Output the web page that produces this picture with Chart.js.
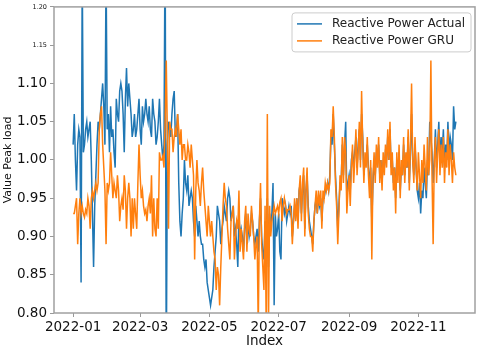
<!DOCTYPE html>
<html>
<head>
<meta charset="utf-8">
<script src="https://cdn.jsdelivr.net/npm/chart.js"></script>
<style>
  html, body { margin: 0; padding: 0; background: #fff; }
  #wrap { width: 480px; height: 351px; }
</style>
</head>
<body>
<div id="wrap"><canvas id="peakChart" width="480" height="351"></canvas></div>
<script>
// daily values, 2022-01-01 .. 2022-12-04 (index = day of year - 1)
const actual = [
  1.02,1.06,1.00,0.96,1.02,1.04,1.03,0.84,1.25,1.01,
  1.02,1.04,1.05,1.03,1.04,1.05,1.00,0.93,0.86,0.94,
  0.98,1.02,1.05,1.04,1.06,1.08,1.10,1.07,1.02,1.25,
  1.04,1.06,1.01,1.07,1.03,1.04,1.01,0.99,1.08,1.06,
  1.05,1.09,1.10,1.09,1.06,1.01,1.08,1.12,1.07,1.10,
  1.08,1.06,1.03,1.04,1.06,1.03,1.04,1.06,1.08,1.04,
  1.02,1.07,1.05,1.06,1.08,1.06,1.05,1.07,1.04,1.03,
  1.08,1.06,1.05,1.02,1.03,1.05,1.08,1.04,1.02,1.00,
  1.02,1.30,0.72,1.02,1.05,1.04,1.03,1.06,1.08,1.09,
  1.03,1.04,1.06,0.97,0.92,0.90,0.93,0.95,1.00,0.97,
  0.96,0.98,0.94,0.95,0.96,0.95,0.92,0.90,0.94,0.92,
  0.90,0.92,0.90,0.89,0.89,0.87,0.86,0.87,0.84,0.83,
  0.82,0.81,0.82,0.83,0.86,0.88,0.90,0.94,0.93,0.92,
  0.89,0.91,0.92,0.94,0.93,0.92,0.95,0.96,0.95,0.92,
  0.93,0.94,0.90,0.91,0.89,0.86,0.93,0.90,0.91,0.90,
  0.88,0.91,0.93,0.89,0.92,0.90,0.91,0.93,0.92,0.90,
  0.89,0.90,0.91,0.88,0.92,0.95,0.90,0.88,0.87,0.92,
  0.89,0.95,0.86,0.93,0.91,0.93,0.97,0.81,0.93,0.90,
  0.91,0.93,0.88,0.87,0.95,0.94,0.93,0.94,0.92,0.93,
  0.94,0.93,0.94,0.90,0.92,0.94,0.93,0.95,0.92,0.96,
  0.97,0.93,0.96,0.98,0.91,0.96,0.98,0.94,0.92,0.91,
  0.90,0.89,0.92,0.94,0.95,0.93,0.95,0.94,0.95,0.92,
  0.95,0.95,0.96,0.96,0.97,0.96,0.98,1.03,1.02,1.06,
  1.02,0.98,0.95,0.91,0.94,0.97,0.97,1.02,0.98,1.02,
  1.05,0.95,0.97,0.98,0.96,1.00,1.01,0.99,1.01,1.03,
  0.99,1.02,1.04,1.00,1.06,1.03,0.98,1.00,1.00,1.02,
  0.99,0.97,0.99,0.92,0.97,1.00,0.98,1.01,1.00,1.02,
  0.98,1.00,0.97,1.00,0.99,1.01,1.00,1.03,1.00,1.04,
  0.99,1.00,0.97,0.99,0.95,1.00,0.98,1.01,0.96,0.99,
  0.98,1.02,0.98,1.00,0.99,1.03,0.97,1.01,1.06,1.00,
  0.98,1.02,0.99,0.96,0.95,0.97,0.93,0.96,0.95,0.99,
  0.97,0.95,1.00,0.98,1.05,1.03,1.01,0.97,1.00,1.04,
  0.99,1.02,1.05,1.00,1.03,1.01,1.04,0.99,1.02,1.00,
  1.05,1.01,1.03,1.02,1.00,1.07,1.04,1.05
];

const gru = [
  0.93,0.93,0.94,0.95,0.89,0.93,0.95,0.93,0.94,0.93,
  0.925,0.935,0.93,0.95,0.94,0.91,0.95,0.96,0.95,0.96,
  0.97,0.96,0.97,1.04,1.06,1.07,1.02,0.99,0.96,0.89,
  0.97,0.96,0.97,1.01,0.98,0.95,0.97,0.96,0.95,0.98,
  0.96,0.92,0.94,0.95,0.935,0.98,0.96,0.91,0.95,0.97,
  0.95,0.90,0.95,0.91,0.95,0.93,0.91,0.97,1.02,0.98,
  0.95,0.96,0.94,0.93,0.935,0.92,0.94,0.95,0.93,0.98,
  0.90,0.95,0.91,0.90,0.95,0.91,1.01,1.00,1.00,1.005,
  0.99,1.05,1.13,1.03,0.91,1.05,1.04,1.04,1.01,1.03,
  1.04,1.03,1.06,1.04,1.02,1.04,1.00,1.02,1.02,1.00,
  1.00,1.02,1.01,0.99,1.02,1.00,0.98,0.87,0.96,1.00,
  0.97,0.96,0.94,0.97,0.99,0.96,0.94,0.92,0.90,0.94,
  0.92,0.90,0.92,0.90,0.88,0.87,0.83,0.86,0.85,0.81,
  0.86,0.90,0.94,0.97,0.95,0.94,0.91,0.89,0.87,0.92,
  0.93,0.94,0.87,0.90,0.92,0.91,0.96,0.88,0.91,0.89,
  0.87,0.92,0.94,0.88,0.93,0.91,0.90,0.94,0.92,0.90,
  0.87,0.89,0.90,0.78,0.92,0.97,0.89,0.86,0.83,0.94,
  0.78,1.06,0.78,0.94,0.90,0.92,0.93,0.94,0.93,0.935,
  0.94,0.93,0.945,0.95,0.92,0.94,0.95,0.94,0.93,0.935,
  0.935,0.94,0.93,0.89,0.92,0.95,0.92,0.95,0.91,0.96,
  0.98,0.92,0.97,0.99,0.90,0.96,0.99,0.93,0.91,0.90,
  0.90,0.88,0.92,0.94,0.96,0.93,0.96,0.94,0.96,0.91,
  0.96,0.95,0.97,0.96,0.97,0.96,0.97,1.04,1.03,1.07,
  1.03,0.97,0.94,0.89,0.93,0.98,0.96,1.03,0.97,1.03,
  1.01,0.93,0.96,0.98,0.94,0.99,1.02,0.97,1.00,1.04,
  0.98,1.01,1.05,0.99,1.09,1.02,0.97,1.01,0.99,1.03,
  0.98,0.95,1.00,0.87,0.98,1.01,0.97,1.02,0.99,1.03,
  0.97,1.00,0.96,1.01,0.98,1.02,0.99,1.04,1.00,1.05,
  0.98,1.01,0.96,0.99,0.93,1.01,0.97,1.02,0.95,1.00,
  0.98,1.03,0.97,1.01,0.99,1.04,0.96,1.02,1.10,1.00,
  0.97,1.03,0.99,0.96,1.01,0.98,0.95,1.00,0.97,1.02,
  0.99,0.96,1.03,0.98,1.00,1.13,0.98,0.89,1.00,1.03,
  0.97,1.01,1.04,0.98,1.02,0.99,1.03,0.97,1.01,0.99,
  1.04,0.98,1.02,1.00,0.97,1.01,0.99,0.98
];

// x ticks: first day of every other month (day index from 2022-01-01)
const monthTicks = [0, 59, 120, 181, 243, 304];
const monthLabels = ["2022-01", "2022-03", "2022-05", "2022-07", "2022-09", "2022-11"];
const yTicks = [0.80, 0.85, 0.90, 0.95, 1.00, 1.05, 1.10, 1.15, 1.20];

const FONT = "'DejaVu Sans', 'Liberation Sans', sans-serif";

// spines on all four sides (matplotlib style box)
const frame = {
  id: "frame",
  afterDatasetsDraw(chart) {
    const { left, right, top, bottom } = chart.chartArea;
    const ctx = chart.ctx;
    ctx.save();
    ctx.strokeStyle = "#a0a0a0";
    ctx.lineWidth = 1.5;
    ctx.strokeRect(left, top, right - left, bottom - top);
    ctx.restore();
  },
};

// legend box in the upper right corner of the plot
const cornerLegend = {
  id: "cornerLegend",
  afterDraw(chart) {
    const ctx = chart.ctx;
    const { right, top } = chart.chartArea;
    const x0 = right - 183, y0 = top + 6, w = 179, h = 39;
    ctx.save();
    ctx.beginPath();
    ctx.roundRect(x0, y0, w, h, 3);
    ctx.fillStyle = "rgba(255,255,255,0.8)";
    ctx.fill();
    ctx.strokeStyle = "#cccccc";
    ctx.lineWidth = 1;
    ctx.stroke();
    ctx.font = "12px " + FONT;
    ctx.textBaseline = "middle";
    chart.data.datasets.forEach((ds, i) => {
      const y = y0 + 11 + i * 17;
      ctx.strokeStyle = ds.borderColor;
      ctx.lineWidth = 1.5;
      ctx.beginPath();
      ctx.moveTo(x0 + 5, y);
      ctx.lineTo(x0 + 30, y);
      ctx.stroke();
      ctx.fillStyle = "#222";
      ctx.fillText(ds.label, x0 + 40, y);
    });
    ctx.restore();
  },
};

const ctx = document.getElementById("peakChart").getContext("2d");
new Chart(ctx, {
  type: "line",
  data: {
    datasets: [
      {
        label: "Reactive Power Actual",
        data: actual.map((v, i) => ({ x: i, y: v })),
        borderColor: "#1f77b4",
        borderWidth: 1.5,
        pointRadius: 0,
        fill: false,
        order: 1,
      },
      {
        label: "Reactive Power GRU",
        data: gru.map((v, i) => ({ x: i, y: v })),
        borderColor: "#ff7f0e",
        borderWidth: 1.5,
        pointRadius: 0,
        fill: false,
        order: 0,
      },
    ],
  },
  options: {
    responsive: false,
    animation: false,
    devicePixelRatio: 1,
    layout: { padding: { top: 5, right: 5, left: 0, bottom: 0 } },
    plugins: {
      legend: { display: false },
      tooltip: { enabled: false },
    },
    scales: {
      x: {
        type: "linear",
        min: -16.85,
        max: 353.85,
        afterBuildTicks: (scale) => {
          scale.ticks = monthTicks.map((v) => ({ value: v }));
        },
        afterFit: (scale) => { scale.height = 38; },
        grid: { drawOnChartArea: false, drawTicks: true, tickLength: 4, color: "#999" },
        border: { display: false },
        ticks: {
          autoSkip: false,
          maxRotation: 0,
          padding: 2,
          color: "#111",
          font: { family: FONT, size: 13.5 },
          callback: (v) => monthLabels[monthTicks.indexOf(v)],
        },
        title: {
          display: true,
          text: "Index",
          color: "#111",
          font: { family: FONT, size: 13.5 },
          padding: { top: 0, bottom: 1 },
        },
      },
      y: {
        min: 0.8,
        max: 1.2,
        afterBuildTicks: (scale) => {
          scale.ticks = yTicks.map((v) => ({ value: v }));
        },
        afterFit: (scale) => { scale.width = 54; },
        grid: { drawOnChartArea: false, drawTicks: true, tickLength: 4, color: "#999" },
        border: { display: false },
        ticks: {
          padding: 3,
          color: "#111",
          font: (c) => ({
            family: FONT,
            size: c.tick && c.tick.value > 1.12 ? 6.5 : 13.5,
          }),
          callback: (v) => v.toFixed(2),
        },
        title: {
          display: true,
          text: "Value Peak load",
          color: "#111",
          font: { family: FONT, size: 11 },
          padding: { top: 2, bottom: 0 },
        },
      },
    },
  },
  plugins: [frame, cornerLegend],
});
</script>
</body>
</html>
